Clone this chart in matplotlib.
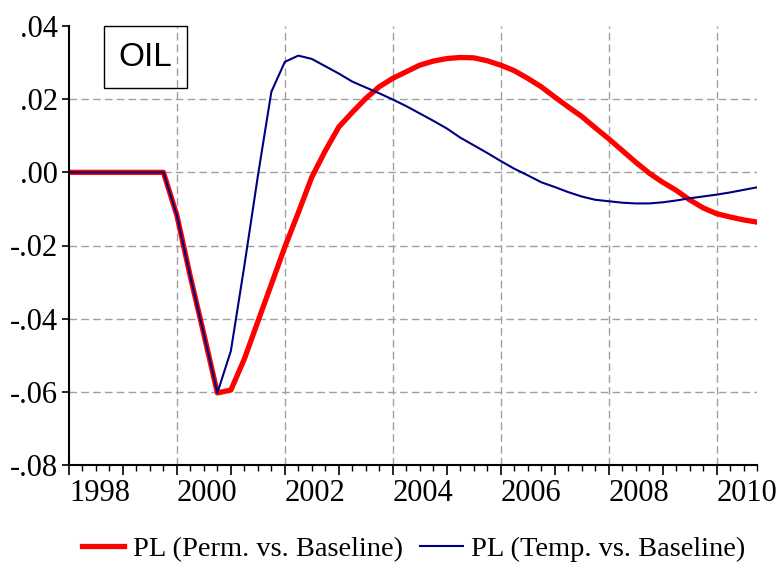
import numpy as np
import matplotlib
matplotlib.use('Agg')
import matplotlib.pyplot as plt
import matplotlib.ticker as ticker
from matplotlib.patches import Rectangle

# quarterly observations 1998Q1 .. 2010Q4
quarters = 1998 + np.arange(52) * 0.25

pl_perm = [0, 0, 0, 0,
           0, 0, 0, 0,
           -0.0118, -0.0286, -0.0443, -0.0603,
           -0.0595, -0.0510, -0.0408, -0.0306,
           -0.0204, -0.0110, -0.0013, 0.0059,
           0.0124, 0.0164, 0.0202, 0.0234,
           0.0257, 0.0275, 0.0293, 0.0304,
           0.0311, 0.0314, 0.0313, 0.0305,
           0.0293, 0.0278, 0.0257, 0.0234,
           0.0206, 0.0179, 0.0153, 0.0122,
           0.0092, 0.0060, 0.0028, -0.0002,
           -0.0027, -0.0049, -0.0075, -0.0097,
           -0.0113, -0.0122, -0.0130, -0.0136]

pl_temp = [0, 0, 0, 0,
           0, 0, 0, 0,
           -0.0118, -0.0286, -0.0443, -0.0603,
           -0.0488, -0.0255, -0.0010, 0.0220,
           0.0302, 0.0319, 0.0310, 0.0290,
           0.0270, 0.0248, 0.0232, 0.0216,
           0.0199, 0.0181, 0.0161, 0.0141,
           0.0120, 0.0095, 0.0074, 0.0053,
           0.0031, 0.0010, -0.0008, -0.0027,
           -0.0040, -0.0054, -0.0066, -0.0075,
           -0.0079, -0.0083, -0.0085, -0.0085,
           -0.0082, -0.0077, -0.0071, -0.0066,
           -0.0061, -0.0055, -0.0048, -0.0041]

years = list(range(1998, 2011))
year_labels = [str(y) if y % 2 == 0 else '' for y in years]
yticks = [-0.08, -0.06, -0.04, -0.02, 0.00, 0.02, 0.04]
labels = ['PL (Perm. vs. Baseline)', 'PL (Temp. vs. Baseline)']

serif = 'Liberation Serif'

fig = plt.figure(figsize=(7.76, 5.69), dpi=100)
ax = fig.add_axes([69 / 776, 104 / 569, 688 / 776, 439 / 569])

# grid
for yr in years[2::2]:
    ax.axvline(yr, color='#a0a0a0', lw=1, ls=(0, (5.5, 3)), zorder=0)
for v in yticks[1:-1]:
    ax.axhline(v, color='#a0a0a0', lw=1, ls=(0, (5.5, 3)), zorder=0)

ax.plot(quarters, pl_perm, color='#ff0000', lw=3.8, label=labels[0])
ax.plot(quarters, pl_temp, color='#000080', lw=1.5, label=labels[1])

ax.set_xlim(1998, 2010.75)
ax.set_ylim(-0.08, 0.04)

ax.spines['top'].set_visible(False)
ax.spines['right'].set_visible(False)
ax.spines['left'].set_linewidth(1.5)
ax.spines['bottom'].set_linewidth(1.5)

ax.set_xticks(years)
ax.set_xticklabels(year_labels, family=serif, fontsize=22)
for lab in ax.get_xticklabels():
    lab.set_horizontalalignment('left')
ax.xaxis.set_minor_locator(ticker.MultipleLocator(0.25))
ax.tick_params(axis='x', which='major', length=7, width=1.2, pad=3)
ax.tick_params(axis='x', which='minor', length=4, width=1)

ax.set_yticks(yticks)
ax.yaxis.set_major_formatter(ticker.FuncFormatter(
    lambda v, p: ('-' if v < -1e-9 else '') + ('%.2f' % abs(v))[1:]))
ax.tick_params(axis='y', length=5, width=1.2, pad=3)
for lab in ax.get_yticklabels():
    lab.set_family(serif)
    lab.set_fontsize(22)

# OIL box
ax.add_patch(Rectangle((0.0509, 0.859), 0.1206, 0.141, transform=ax.transAxes,
                       fill=False, edgecolor='black', lw=1, clip_on=False))
ax.text(0.1112, 0.929, 'OIL', transform=ax.transAxes, ha='center', va='center',
        family='Liberation Sans', fontsize=24)

fig.legend(loc='center', bbox_to_anchor=(413.5 / 776, 1 - 549 / 569), ncol=2,
           frameon=False, prop={'family': serif, 'size': 20.5},
           handlelength=1.5, handletextpad=0.3, columnspacing=0.6)

fig.savefig('out.png', dpi=100)
